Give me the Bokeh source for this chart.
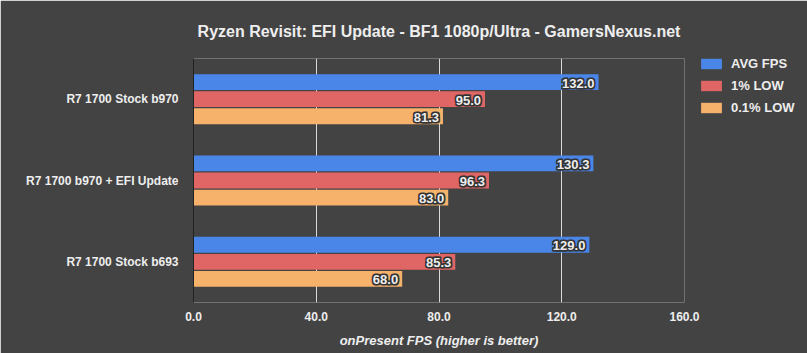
from bokeh.plotting import figure
from bokeh.models import ColumnDataSource, FactorRange, Legend, LegendItem, Title, SingleIntervalTicker, CustomJSTickFormatter
from bokeh.transform import dodge
from bokeh.core.properties import value
from bokeh.embed import file_html
from bokeh.resources import INLINE

categories = ["R7 1700 Stock b970", "R7 1700 b970 + EFI Update", "R7 1700 Stock b693"]
avg_fps = [132.0, 130.3, 129.0]
low_1 = [95.0, 96.3, 85.3]
low_01 = [81.3, 83.0, 68.0]
series_names = ["AVG FPS", "1% LOW", "0.1% LOW"]
colors = ["#4a86e8", "#e06666", "#f6b26b"]

BG = "#434343"
TXT = "#eeeeee"
FONT = "Liberation Sans"

src = ColumnDataSource(dict(
    cat=categories,
    avg=avg_fps, l1=low_1, l01=low_01,
    avg_t=[f"{v:.1f}" for v in avg_fps],
    l1_t=[f"{v:.1f}" for v in low_1],
    l01_t=[f"{v:.1f}" for v in low_01],
))

p = figure(frame_width=491, frame_height=244, output_backend="svg", toolbar_location=None,
           y_range=FactorRange(*reversed(categories)), x_range=(0, 160),
           background_fill_color=BG, border_fill_color=BG,
           min_border_left=193, min_border_right=123, min_border_top=58, min_border_bottom=51)
p.outline_line_color = None

offs = [-0.21, 0.0, 0.21]
keys = ["avg", "l1", "l01"]
renderers = []
for k, off, c in zip(keys, offs, colors):
    r = p.hbar(y=dodge("cat", -off, range=p.y_range), right=k, left=0, height=0.195,
               source=src, fill_color=c, line_color=None)
    renderers.append(r)
for k, off in zip(keys, offs):
    # dark halo behind the value labels
    for dx, dy in [(-1, -1), (1, 1), (-1, 1), (1, -1)]:
        p.text(x=k, y=dodge("cat", -off, range=p.y_range), text=k + "_t", source=src,
               text_align="right", text_baseline="middle", x_offset=-4 + dx, y_offset=1 + dy,
               text_color="#333333", text_font=value(FONT), text_font_style="bold",
               text_font_size="13px", text_outline_color="#333333")
    p.text(x=k, y=dodge("cat", -off, range=p.y_range), text=k + "_t", source=src,
           text_align="right", text_baseline="middle", x_offset=-4, y_offset=1,
           text_color=TXT, text_font=value(FONT), text_font_style="bold",
           text_font_size="13px")

p.xaxis.ticker = SingleIntervalTicker(interval=40)
p.xaxis.formatter = CustomJSTickFormatter(code="return tick.toFixed(1);")
p.xaxis.axis_line_color = None
p.xaxis.major_tick_line_color = None
p.xaxis.minor_tick_line_color = None
p.xaxis.major_tick_out = 0
p.xaxis.major_tick_in = 0
p.xaxis.major_label_text_color = TXT
p.xaxis.major_label_text_font = FONT
p.xaxis.major_label_text_font_style = "bold"
p.xaxis.major_label_text_font_size = "12px"
p.xaxis.major_label_standoff = 5
p.xaxis.axis_label = "onPresent FPS (higher is better)"
p.xaxis.axis_label_text_color = TXT
p.xaxis.axis_label_text_font = FONT
p.xaxis.axis_label_text_font_style = "bold italic"
p.xaxis.axis_label_text_font_size = "13px"
p.xaxis.axis_label_standoff = 9

p.yaxis.axis_line_color = "#222222"
p.yaxis.major_tick_line_color = None
p.yaxis.minor_tick_line_color = None
p.yaxis.major_tick_out = 0
p.yaxis.major_tick_in = 0
p.yaxis.major_label_text_color = TXT
p.yaxis.major_label_text_font = FONT
p.yaxis.major_label_text_font_style = "bold"
p.yaxis.major_label_text_font_size = "12px"
p.yaxis.major_label_standoff = 15

p.xgrid.grid_line_color = "#d9d9d9"
p.xgrid.grid_line_width = 1
p.ygrid.grid_line_color = None

p.title = Title(text="Ryzen Revisit: EFI Update - BF1 1080p/Ultra - GamersNexus.net",
                align="center", text_color=TXT, text_font=FONT, text_font_style="bold",
                text_font_size="16px", offset=-5)
p.title.standoff = 38

legend = Legend(items=[LegendItem(label=n, renderers=[r]) for n, r in zip(series_names, renderers)],
                location=(14, 187), background_fill_alpha=0, border_line_color=None,
                label_text_color=TXT, label_text_font=FONT, label_text_font_style="bold",
                label_text_font_size="13px", glyph_width=26, glyph_height=13,
                spacing=7, padding=0, margin=0, label_standoff=7)
p.add_layout(legend, "right")

open("out.html", "w").write(file_html(p, INLINE))
